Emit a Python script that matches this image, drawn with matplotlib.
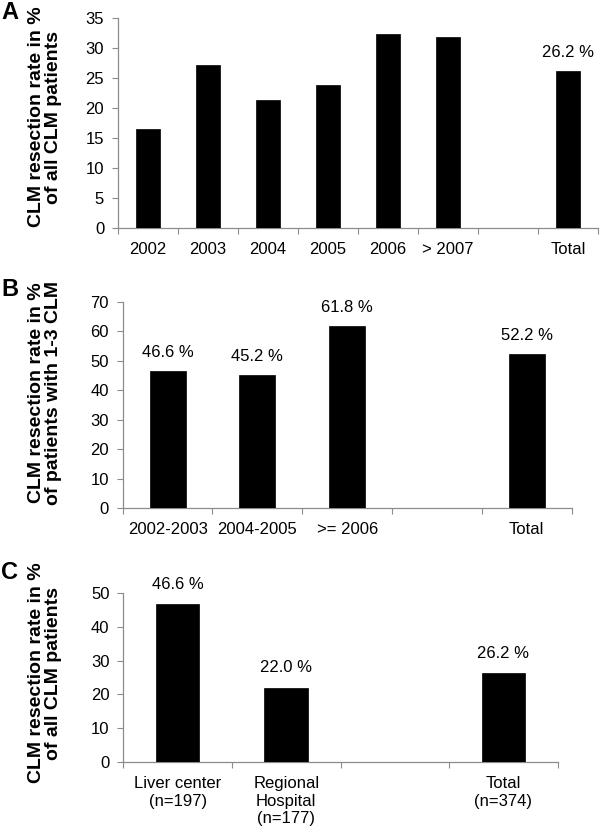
import numpy as np
import matplotlib
matplotlib.use('Agg')
import matplotlib.pyplot as plt
from matplotlib.ticker import FixedLocator, NullFormatter

plt.rcParams['font.family'] = ['Liberation Sans', 'DejaVu Sans']

# panel A: resection rate by year, all CLM patients
a_labels = ['2002', '2003', '2004', '2005', '2006', '> 2007', '', 'Total']
a_values = [16.6, 27.2, 21.4, 23.9, 32.4, 31.9, None, 26.2]
a_text = [None, None, None, None, None, None, None, '26.2 %']

# panel B: patients with 1-3 CLM
b_labels = ['2002-2003', '2004-2005', '>= 2006', '', 'Total']
b_values = [46.6, 45.2, 61.8, None, 52.2]
b_text = ['46.6 %', '45.2 %', '61.8 %', None, '52.2 %']

# panel C: by hospital type
c_labels = ['Liver center\n(n=197)', 'Regional\nHospital\n(n=177)', '', 'Total\n(n=374)']
c_values = [46.6, 22.0, None, 26.2]
c_text = ['46.6 %', '22.0 %', None, '26.2 %']

GREY = '#8c8c8c'
FS = 12


def panel(ax, labels, values, texts, ymax, ystep, off):
    n = len(labels)
    xs = [i for i in range(n) if values[i] is not None]
    hs = [values[i] for i in xs]
    ax.bar(xs, hs, width=0.4, color='black', edgecolor='black', linewidth=0.5, zorder=3)
    for i in range(n):
        if texts[i] is not None:
            ax.annotate(texts[i], (i, values[i]), xytext=(0, off), textcoords='offset points',
                        ha='center', va='bottom', fontsize=FS)
    ax.set_xlim(-0.5, n - 0.5)
    ax.set_ylim(0, ymax)
    ax.set_yticks(np.arange(0, ymax + 1, ystep))
    # boundary ticks as majors, category labels as minors
    ax.xaxis.set_major_locator(FixedLocator(np.arange(-0.5, n, 1.0)))
    ax.xaxis.set_major_formatter(NullFormatter())
    ax.xaxis.set_minor_locator(FixedLocator(np.arange(n)))
    ax.set_xticklabels(labels, minor=True, fontsize=FS, linespacing=1.2)
    ax.tick_params(axis='x', which='major', direction='out', length=4, color=GREY, width=0.8)
    ax.tick_params(axis='x', which='minor', length=0, pad=10)
    ax.tick_params(axis='y', direction='out', length=4, color=GREY, width=0.8, pad=6, labelsize=FS)
    for s in ['top', 'right']:
        ax.spines[s].set_visible(False)
    for s in ['left', 'bottom']:
        ax.spines[s].set_color(GREY)
        ax.spines[s].set_linewidth(0.9)


fig = plt.figure(figsize=(6, 8.3), dpi=100)

axA = fig.add_axes([0.1967, 0.7249, 0.80, 0.2530])
panel(axA, a_labels, a_values, a_text, 35, 5, 8)

axB = fig.add_axes([0.2045, 0.3876, 0.7483, 0.2489])
panel(axB, b_labels, b_values, b_text, 70, 10, 8)

axC = fig.add_axes([0.2055, 0.0816, 0.7240, 0.2043])
panel(axC, c_labels, c_values, c_text, 50, 10, 9)

ylab_all = 'CLM resection rate in %\nof all CLM patients'
ylab_b = 'CLM resection rate in %\nof patients with 1-3 CLM'
for yc, txt in [(117, ylab_all), (393, ylab_b), (673, ylab_all)]:
    fig.text(45 / 600, 1 - yc / 830, txt, rotation=90, ha='center', va='center',
             fontsize=14, fontweight='bold', multialignment='center', linespacing=1.0)

# panel letters
fig.text(1 / 600, 1 - 1 / 830, 'A', fontsize=17, fontweight='bold', va='top', ha='left')
fig.text(1 / 600, 1 - 278 / 830, 'B', fontsize=17, fontweight='bold', va='top', ha='left')
fig.text(1 / 600, 1 - 561 / 830, 'C', fontsize=17, fontweight='bold', va='top', ha='left')

fig.savefig('out.png', dpi=100)
